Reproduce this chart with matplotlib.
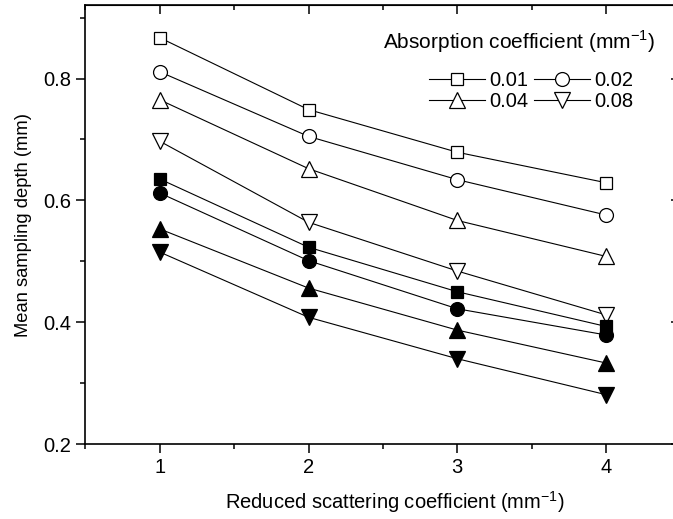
import numpy as np
import matplotlib
matplotlib.use('Agg')
import matplotlib.pyplot as plt
from matplotlib.ticker import MultipleLocator

plt.rcParams['font.family'] = ['Liberation Sans', 'DejaVu Sans']
plt.rcParams['mathtext.fontset'] = 'custom'
plt.rcParams['mathtext.rm'] = 'Liberation Sans'

# reduced scattering coefficient (mm^-1)
mus = [1, 2, 3, 4]

# open markers: one series per absorption coefficient
open_labels = ['0.01', '0.02', '0.04', '0.08']
open_001 = [0.867, 0.749, 0.679, 0.629]
open_002 = [0.811, 0.705, 0.634, 0.576]
open_004 = [0.765, 0.652, 0.567, 0.508]
open_008 = [0.697, 0.564, 0.484, 0.412]

# filled markers
fill_001 = [0.635, 0.523, 0.450, 0.393]
fill_002 = [0.612, 0.501, 0.422, 0.379]
fill_004 = [0.553, 0.456, 0.387, 0.333]
fill_008 = [0.515, 0.408, 0.340, 0.281]

fig = plt.figure(figsize=(6.73, 5.19), dpi=100)
ax = fig.add_axes([0.127, 0.1445, 0.884, 0.845])

markers = ['s', 'o', '^', 'v']
sizes = [9, 10, 11, 11]
open_series = [open_001, open_002, open_004, open_008]
fill_series = [fill_001, fill_002, fill_004, fill_008]

handles = []
for vals, m, ms, lab in zip(open_series, markers, sizes, open_labels):
    h, = ax.plot(mus, vals, color='black', lw=0.8, marker=m, ms=ms,
                 mfc='white', mec='black', mew=0.9, label=lab)
    handles.append(h)
for vals, m, ms in zip(fill_series, markers, sizes):
    ax.plot(mus, vals, color='black', lw=0.8, marker=m, ms=ms,
            mfc='black', mec='black', mew=0.9)

ax.set_xlim(0.5, 4.5)
ax.set_ylim(0.2, 0.92)
ax.xaxis.set_major_locator(MultipleLocator(1))
ax.xaxis.set_minor_locator(MultipleLocator(0.5))
ax.yaxis.set_minor_locator(MultipleLocator(0.1))
ax.set_yticks([0.2, 0.4, 0.6, 0.8])
ax.set_yticklabels(['0.2', '0.4', '0.6', '0.8'])

ax.tick_params(which='both', direction='out', labelsize=14.5, width=1.1)
ax.tick_params(which='major', length=6.5)
ax.tick_params(which='minor', length=3.5)
for s in ax.spines.values():
    s.set_linewidth(1.2)

# top/right ticks point inward
axt = ax.secondary_xaxis('top')
axt.xaxis.set_major_locator(MultipleLocator(1))
axt.xaxis.set_minor_locator(MultipleLocator(0.5))
axt.tick_params(which='both', direction='in', labeltop=False, width=1.1)
axt.tick_params(which='major', length=6.5)
axt.tick_params(which='minor', length=3.5)
axr = ax.secondary_yaxis('right')
axr.yaxis.set_major_locator(MultipleLocator(0.2))
axr.yaxis.set_minor_locator(MultipleLocator(0.1))
axr.tick_params(which='both', direction='in', labelright=False, width=1.1)
axr.tick_params(which='major', length=6.5)
axr.tick_params(which='minor', length=3.5)

ax.set_xlabel('Reduced scattering coefficient (mm$^{-1}$)', fontsize=14.5)
ax.xaxis.set_label_coords(0.52, -0.102)
ax.set_ylabel('Mean sampling depth (mm)', fontsize=13.2, labelpad=8)

fig.text(383 / 673, 1 - 42 / 519, 'Absorption coefficient (mm$^{-1}$)',
         fontsize=15, va='center', ha='left')

# row-major order: 0.01 0.02 / 0.04 0.08
order = [0, 2, 1, 3]
leg = ax.legend([handles[i] for i in order], [open_labels[i] for i in order],
                ncol=2, frameon=False, fontsize=14.5,
                loc='upper left', bbox_to_anchor=(429 / 673, 1 - 71 / 519),
                bbox_transform=fig.transFigure, borderpad=0, borderaxespad=0,
                handlelength=2.8, handletextpad=0.2, columnspacing=0.25,
                labelspacing=0.1)

fig.savefig('out.png', dpi=100)
